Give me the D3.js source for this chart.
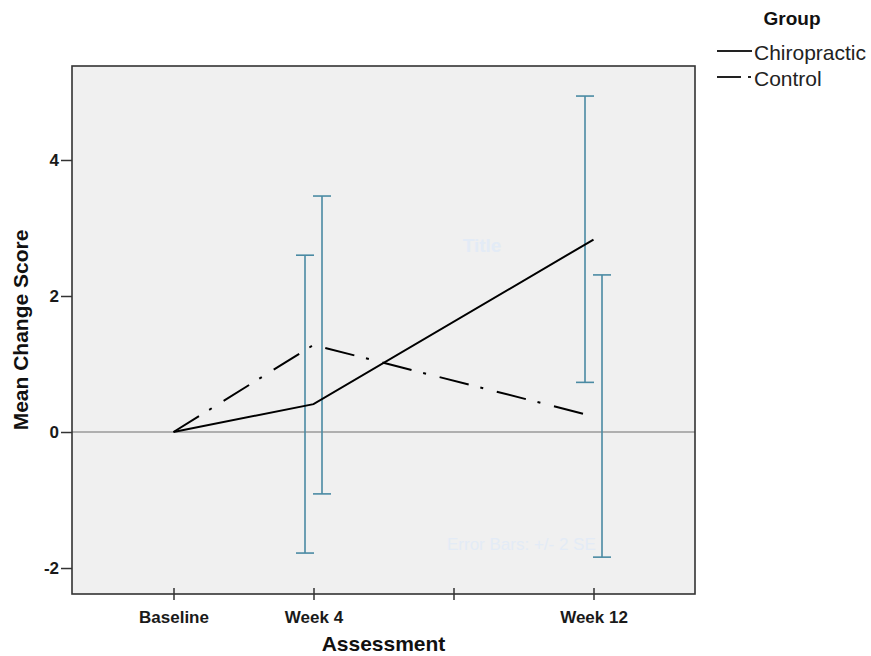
<!DOCTYPE html>
<html lang="en">
<head>
  <meta charset="UTF-8">
  <title>Mean Change Score by Assessment</title>
  <script src="https://d3js.org/d3.v7.min.js"></script>
  <style>
    body {
      margin: 0;
      background: #ffffff;
      font-family: "Liberation Sans", Arial, sans-serif;
    }
    .axis text {
      font-size: 17px;
      font-weight: bold;
      fill: #1a1a1a;
      font-family: "Liberation Sans", Arial, sans-serif;
    }
    .axis path {
      display: none;
    }
    .axis line {
      stroke: #333;
      stroke-width: 1.5;
    }
    .axis-title {
      font-size: 21px;
      font-weight: bold;
      fill: #111;
    }
    .mean-line {
      fill: none;
      stroke: #000;
      stroke-width: 2;
    }
    .err {
      stroke: #4a8aa3;
      stroke-width: 1.6;
    }
    .ghost {
      fill: #e3ebf6;
    }
  </style>
</head>
<body>
  <svg width="871" height="656"></svg>

  <script>
    // Data
    const categories = ["Baseline", "Week 4", "Week 8", "Week 12"];
    const tickLabels = ["Baseline", "Week 4", "", "Week 12"];
    const groups = ["Chiropractic", "Control"];
    const yTicks = [-2, 0, 2, 4];

    const chiroMean = [0, 0.41, null, 2.83];
    const chiroLow = [null, -1.78, null, 0.73];
    const chiroHigh = [null, 2.60, null, 4.94];

    const controlMean = [0, 1.28, null, 0.23];
    const controlLow = [null, -0.91, null, -1.84];
    const controlHigh = [null, 3.47, null, 2.31];

    const width = 871;
    const height = 656;
    const margin = { top: 66, right: 176, bottom: 62, left: 72 };

    const svg = d3.select("svg");

    const series = [
      { name: groups[0], mean: chiroMean, low: chiroLow, high: chiroHigh, dash: null },
      { name: groups[1], mean: controlMean, low: controlLow, high: controlHigh, dash: "30,12,3,14" }
    ];

    // Scales
    const x = d3.scalePoint()
      .domain(categories)
      .range([margin.left, width - margin.right])
      .padding(0.725);

    const dodge = d3.scaleBand()
      .domain(groups)
      .range([-17, 17]);

    const y = d3.scaleLinear()
      .domain([-2.382, 5.382])
      .range([height - margin.bottom, margin.top]);

    // Plot background
    svg.append("rect")
      .attr("x", margin.left)
      .attr("y", margin.top)
      .attr("width", width - margin.left - margin.right)
      .attr("height", height - margin.top - margin.bottom)
      .attr("fill", "#f0f0f0");

    // Faint title / footnote left in the plot
    svg.append("text")
      .attr("class", "ghost")
      .attr("x", 482)
      .attr("y", 252)
      .attr("text-anchor", "middle")
      .style("font-size", "19px")
      .style("font-weight", "bold")
      .text("Title");

    svg.append("text")
      .attr("class", "ghost")
      .attr("x", 447)
      .attr("y", 550)
      .style("font-size", "17px")
      .text("Error Bars: +/- 2 SE");

    // Zero reference line
    svg.append("line")
      .attr("x1", margin.left)
      .attr("x2", width - margin.right)
      .attr("y1", y(0))
      .attr("y2", y(0))
      .attr("stroke", "#9a9a9a")
      .attr("stroke-width", 1.6);

    // Error bars
    series.forEach(s => {
      const bars = categories
        .map((c, i) => ({ cat: c, low: s.low[i], high: s.high[i] }))
        .filter(d => d.low != null);

      const g = svg.append("g").attr("class", "err");
      const cx = d => x(d.cat) + dodge(s.name) + dodge.bandwidth() / 2;

      g.selectAll(".stem")
        .data(bars)
        .join("line")
        .attr("x1", cx).attr("x2", cx)
        .attr("y1", d => y(d.low)).attr("y2", d => y(d.high));

      g.selectAll(".cap-top")
        .data(bars)
        .join("line")
        .attr("x1", d => cx(d) - 9).attr("x2", d => cx(d) + 9)
        .attr("y1", d => y(d.high)).attr("y2", d => y(d.high));

      g.selectAll(".cap-bottom")
        .data(bars)
        .join("line")
        .attr("x1", d => cx(d) - 9).attr("x2", d => cx(d) + 9)
        .attr("y1", d => y(d.low)).attr("y2", d => y(d.low));
    });

    // Mean lines
    const line = d3.line()
      .x(d => x(d.cat))
      .y(d => y(d.value));

    series.forEach(s => {
      const pts = categories
        .map((c, i) => ({ cat: c, value: s.mean[i] }))
        .filter(d => d.value != null);

      svg.append("path")
        .datum(pts)
        .attr("class", "mean-line")
        .attr("stroke-dasharray", s.dash)
        .attr("d", line);
    });

    // Plot frame
    svg.append("rect")
      .attr("x", margin.left)
      .attr("y", margin.top)
      .attr("width", width - margin.left - margin.right)
      .attr("height", height - margin.top - margin.bottom)
      .attr("fill", "none")
      .attr("stroke", "#333")
      .attr("stroke-width", 1.6);

    // X axis (ticks cross the frame)
    const xAxis = svg.append("g")
      .attr("class", "axis")
      .attr("transform", `translate(0,${height - margin.bottom})`)
      .call(d3.axisBottom(x)
        .tickSizeInner(6)
        .tickSizeOuter(0)
        .tickPadding(11)
        .tickFormat((d, i) => tickLabels[i]));
    xAxis.selectAll(".tick line").attr("y1", -6);

    // Y axis (plain hyphen for negatives, as in the original)
    svg.append("g")
      .attr("class", "axis")
      .attr("transform", `translate(${margin.left},0)`)
      .call(d3.axisLeft(y)
        .tickValues(yTicks)
        .tickSizeInner(11)
        .tickSizeOuter(0)
        .tickPadding(2)
        .tickFormat(d => String(d)));

    // Axis titles
    svg.append("text")
      .attr("class", "axis-title")
      .attr("x", (margin.left + width - margin.right) / 2)
      .attr("y", 651)
      .attr("text-anchor", "middle")
      .text("Assessment");

    svg.append("text")
      .attr("class", "axis-title")
      .attr("transform", `translate(28,${(margin.top + height - margin.bottom) / 2}) rotate(-90)`)
      .attr("text-anchor", "middle")
      .text("Mean Change Score");

    // Legend
    const legend = svg.append("g").attr("transform", "translate(717,0)");

    legend.append("text")
      .attr("x", 75)
      .attr("y", 25)
      .attr("text-anchor", "middle")
      .style("font-size", "19px")
      .style("font-weight", "bold")
      .style("fill", "#111")
      .text("Group");

    const item = legend.selectAll(".item")
      .data(series)
      .join("g")
      .attr("transform", (d, i) => `translate(0,${60 + i * 26})`);

    item.append("line")
      .attr("x1", 0)
      .attr("x2", 35)
      .attr("y1", -9)
      .attr("y2", -9)
      .attr("stroke", "#222")
      .attr("stroke-width", 2)
      .attr("stroke-dasharray", d => d.dash ? "24,7,3,4" : null);

    item.append("text")
      .attr("x", 37)
      .attr("y", 0)
      .style("font-size", "21px")
      .style("fill", "#222")
      .text(d => d.name);
  </script>
</body>
</html>
